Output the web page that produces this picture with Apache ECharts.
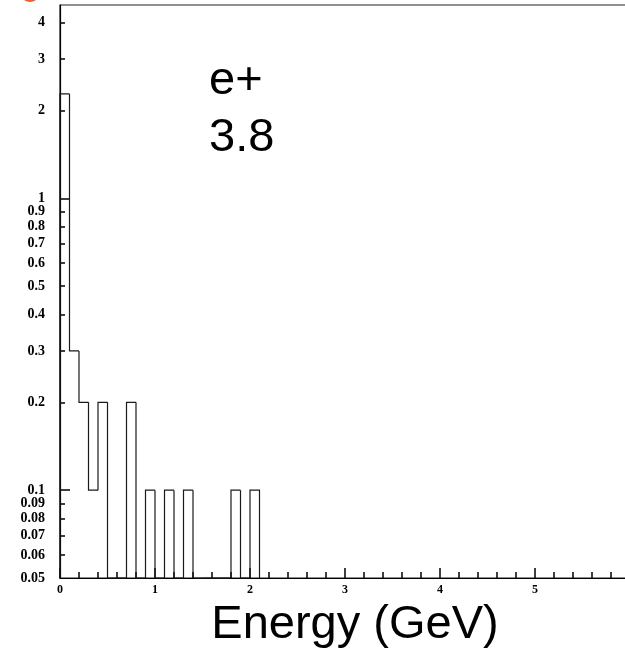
<!DOCTYPE html>
<html>
<head>
<meta charset="utf-8">
<script src="https://cdn.jsdelivr.net/npm/echarts@6/dist/echarts.min.js"></script>
<style>
  html, body { margin: 0; padding: 0; background: #fff; }
  #chart { width: 625px; height: 651px; }
</style>
</head>
<body>
<div id="chart"></div>
<script>
// histogram bins (GeV), width 0.1
const binWidth = 0.1
const binStarts = [0, 0.1, 0.2, 0.3, 0.4, 0.5, 0.6, 0.7, 0.8, 0.9, 1.0,
  1.1, 1.2, 1.3, 1.4, 1.5, 1.6, 1.7, 1.8, 1.9, 2.0]
const counts = [2.28, 0.3, 0.2, 0.1, 0.2, 0, 0, 0.2, 0, 0.1, 0,
  0.1, 0, 0.1, 0, 0, 0, 0, 0.1, 0, 0.1]

// y axis (log) labels and ticks
const yLabels = [0.05, 0.06, 0.07, 0.08, 0.09, 0.1, 0.2, 0.3, 0.4, 0.5,
  0.6, 0.7, 0.8, 0.9, 1, 2, 3, 4]
const yMinorTicks = [0.06, 0.07, 0.08, 0.09, 0.2, 0.3, 0.4, 0.5, 0.6,
  0.7, 0.8, 0.9, 2, 3, 4]
const yMajorTicks = [0.1, 1]

const labelFont = { fontFamily: 'Liberation Serif', fontWeight: 'bold', color: '#000' }

const chart = echarts.init(document.getElementById('chart'), null, { renderer: 'canvas' })

// step outline like a ROOT histogram; empty bins drop to the frame bottom
function renderItem(params, api) {
  const i = params.dataIndex
  const cs = params.coordSys
  const bottom = cs.y + cs.height
  const x0 = api.value(0)
  const v = api.value(1)
  const prev = api.value(2)
  const yOf = (val) => (val > 0 ? api.coord([x0, val])[1] : bottom)
  const xl = api.coord([x0, 1])[0]
  const xr = api.coord([x0 + binWidth, 1])[0]
  const pts = [[xl, yOf(prev)], [xl, yOf(v)], [xr, yOf(v)]]
  if (i === binStarts.length - 1) pts.push([xr, bottom])
  return {
    type: 'polyline',
    shape: { points: pts },
    style: { stroke: '#1a1a1a', lineWidth: 1.2, fill: null },
  }
}

chart.setOption({
  animation: false,
  // frame runs past the right edge of the window, like the original
  grid: {
    left: 60, top: 5, width: 570, height: 573,
    outerBoundsMode: 'none',
    show: true, borderColor: '#222', borderWidth: 1.2,
  },
  title: {
    text: 'e+\n3.8',
    left: 204,
    top: 48,
    textStyle: { fontFamily: 'Liberation Sans', fontWeight: 'normal', fontSize: 47, lineHeight: 57, color: '#000' },
  },
  graphic: [
    { type: 'circle', shape: { cx: 30, cy: -8, r: 10 }, style: { fill: '#ff5a1e' } },
  ],
  xAxis: {
    type: 'value',
    min: 0,
    max: 6,
    interval: 1,
    name: 'Energy (GeV)',
    nameLocation: 'middle',
    nameGap: 24,
    nameTextStyle: { fontFamily: 'Liberation Sans', fontSize: 47, color: '#000', padding: [0, 0, 0, 20] },
    axisLine: { lineStyle: { color: '#000', width: 1.2 } },
    axisTick: { inside: true, length: 10, lineStyle: { color: '#000', width: 1.5 } },
    minorTick: { show: true, splitNumber: 5, length: 6, lineStyle: { color: '#000', width: 1.5 } },
    axisLabel: { ...labelFont, fontSize: 12, margin: 6, showMaxLabel: false },
    splitLine: { show: false },
  },
  yAxis: [
    {
      type: 'log',
      logBase: 10,
      min: 0.05,
      max: 4.6,
      axisLine: { show: true, lineStyle: { color: '#000', width: 1.2 } },
      axisTick: { inside: true, length: 5, customValues: yMinorTicks, lineStyle: { color: '#000', width: 1.5 } },
      axisLabel: { ...labelFont, fontSize: 14, margin: 15, customValues: yLabels, formatter: (v) => String(v) },
      splitLine: { show: false },
    },
    {
      type: 'log',
      logBase: 10,
      min: 0.05,
      max: 4.6,
      position: 'left',
      axisLine: { show: false },
      axisTick: { inside: true, length: 10, customValues: yMajorTicks, lineStyle: { color: '#000', width: 1.5 } },
      axisLabel: { show: false },
      splitLine: { show: false },
    },
  ],
  series: [
    {
      type: 'custom',
      renderItem,
      encode: { x: 0, y: 1 },
      data: binStarts.map((x, i) => [x, counts[i], i > 0 ? counts[i - 1] : 0]),
    },
  ],
})

window.addEventListener('resize', () => chart.resize())
</script>
</body>
</html>
